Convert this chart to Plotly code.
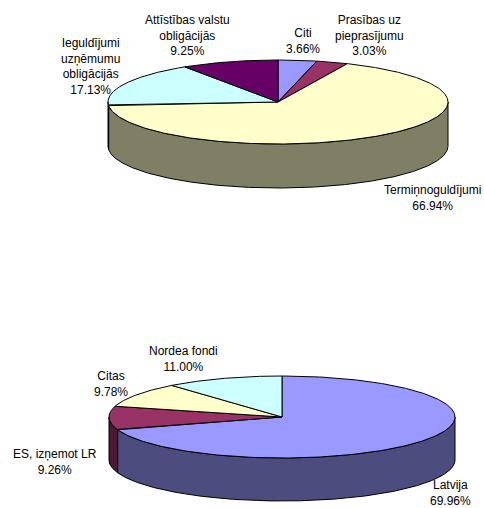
import math
import plotly.graph_objects as go

# Top pie data (clockwise from 12 o'clock)
top_labels = ["Citi", "Prasības uz<br>pieprasījumu", "Termiņnoguldījumi",
              "Ieguldījumi<br>uzņēmumu<br>obligācijās", "Attīstības valstu<br>obligācijās"]
top_values = [3.66, 3.03, 66.94, 17.13, 9.25]

# Bottom pie data
bottom_labels = ["Latvija", "ES, izņemot LR", "Citas", "Nordea fondi"]
bottom_values = [69.96, 9.26, 9.78, 11.00]

# Styling and layout, kept apart from the data
top_colors = ["#9999FF", "#993366", "#FFFFCC", "#CCFFFF", "#660066"]
top_sides = ["#4C4C7F", "#4C1933", "#7F7F66", "#667F7F", "#330033"]
bottom_colors = ["#9999FF", "#993366", "#FFFFCC", "#CCFFFF"]
bottom_sides = ["#4C4C7F", "#4C1933", "#7F7F66", "#667F7F"]
top_geom = dict(cx=278, cy=102, rx=170, ry=42, depth=44)
bottom_geom = dict(cx=282, cy=417, rx=173, ry=41, depth=43)
top_label_xy = [(303, 41), (369, 35), (432, 198), (90, 66), (187, 35)]
bottom_label_xy = [(450, 493), (55, 462), (111, 384), (183, 359)]
FONT = dict(family="Liberation Sans, Arial, sans-serif", size=12, color="#000000")
EDGE = dict(color="#000000", width=1)


def ellipse_point(g, deg, drop=0):
    a = math.radians(deg)
    return g["cx"] + g["rx"] * math.sin(a), g["cy"] - g["ry"] * math.cos(a) + drop


def arc(g, a0, a1, drop=0):
    n = max(2, int(abs(a1 - a0) * 2))
    return [ellipse_point(g, a0 + (a1 - a0) * i / n, drop) for i in range(n + 1)]


def polygon(points, color):
    xs = [p[0] for p in points] + [points[0][0]]
    ys = [p[1] for p in points] + [points[0][1]]
    return go.Scatter(x=xs, y=ys, mode="lines", fill="toself", fillcolor=color,
                      line=EDGE, hoverinfo="skip", showlegend=False)


def pie3d(values, colors, sides, g):
    traces, start = [], 0.0
    spans = []
    for v in values:
        end = start + v * 3.6
        spans.append((start, end))
        start = end
    # visible rim: only the part of each slice on the front half (90-270 deg)
    for (a0, a1), side in zip(spans, sides):
        lo, hi = max(a0, 90), min(a1, 270)
        if hi > lo:
            traces.append(polygon(arc(g, lo, hi) + arc(g, hi, lo, g["depth"]), side))
    for (a0, a1), color in zip(spans, colors):
        traces.append(polygon([(g["cx"], g["cy"])] + arc(g, a0, a1), color))
    return traces


fig = go.Figure()
fig.add_traces(pie3d(top_values, top_colors, top_sides, top_geom))
fig.add_traces(pie3d(bottom_values, bottom_colors, bottom_sides, bottom_geom))

annotations = []
for labels, values, places in ((top_labels, top_values, top_label_xy),
                               (bottom_labels, bottom_values, bottom_label_xy)):
    for lab, val, (x, y) in zip(labels, values, places):
        annotations.append(dict(x=x, y=y, xref="x", yref="y", showarrow=False,
                                text=f"{lab}<br>{val:.2f}%", font=FONT,
                                align="center", xanchor="center", yanchor="middle"))

fig.update_layout(
    width=484, height=508, autosize=False,
    margin=dict(l=0, r=0, t=0, b=0),
    paper_bgcolor="#FFFFFF", plot_bgcolor="#FFFFFF",
    showlegend=False, annotations=annotations,
    xaxis=dict(range=[0, 484], visible=False, fixedrange=True),
    yaxis=dict(range=[508, 0], visible=False, fixedrange=True),
)
fig.write_html("out.html", config={"displayModeBar": False},
               post_script="document.body.style.margin='0';document.documentElement.style.overflow='hidden';")
